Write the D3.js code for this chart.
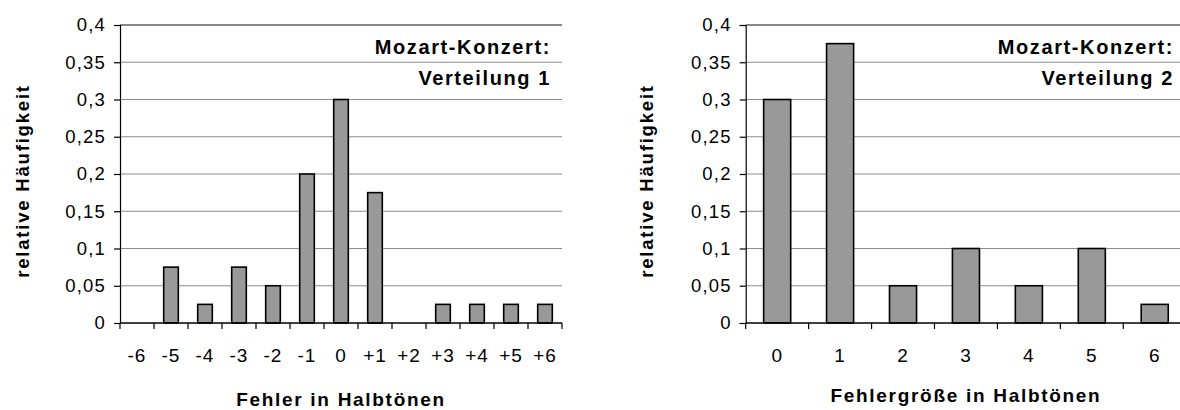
<!DOCTYPE html>
<html>
<head>
<meta charset="utf-8">
<script src="https://cdn.jsdelivr.net/npm/d3@7"></script>
<style>
  html, body { margin: 0; padding: 0; background: #fff; }
  svg { display: block; font-family: "Liberation Sans", Arial, sans-serif; }
</style>
</head>
<body>
<svg id="chart" width="1180" height="410"></svg>
<script>
// Relative frequencies of pitch errors (semitones), Mozart concerto
const signedErrors = ["-6", "-5", "-4", "-3", "-2", "-1", "0", "+1", "+2", "+3", "+4", "+5", "+6"];
const signedShare  = [0, 0.075, 0.025, 0.075, 0.05, 0.2, 0.3, 0.175, 0, 0.025, 0.025, 0.025, 0.025];

const errorSizes = ["0", "1", "2", "3", "4", "5", "6"];
const sizeShare  = [0.3, 0.375, 0.05, 0.1, 0.05, 0.1, 0.025];

const yTicks = [0, 0.05, 0.1, 0.15, 0.2, 0.25, 0.3, 0.35, 0.4];
const yTitle = "relative Häufigkeit";

const panels = [
  { cats: signedErrors, vals: signedShare, x0: 120, x1: 562,
    titleLines: ["Mozart-Konzert:", "Verteilung 1"], titleRight: 551,
    xTitle: "Fehler in Halbtönen", xTitleY: 406, yTitleX: 29 },
  { cats: errorSizes, vals: sizeShare, x0: 745.7, x1: 1186.2,
    titleLines: ["Mozart-Konzert:", "Verteilung 2"], titleRight: 1174,
    xTitle: "Fehlergröße in Halbtönen", xTitleY: 402, yTitleX: 653 }
];

const svg = d3.select("#chart");
const plotTop = 25, plotBottom = 323;
const y = d3.scaleLinear().domain([0, 0.4]).range([plotBottom, plotTop]);
const fmt = v => String(v).replace(".", ",");

panels.forEach(p => {
  const g = svg.append("g");
  const x = d3.scaleBand().domain(p.cats).range([p.x0, p.x1]).padding(0);
  const step = x.step();

  // horizontal gridlines
  g.selectAll("line.grid").data(yTicks.filter(t => t > 0)).join("line")
    .attr("class", "grid")
    .attr("x1", p.x0).attr("x2", p.x1)
    .attr("y1", d => y(d)).attr("y2", d => y(d))
    .attr("stroke", t => t === 0.4 ? "#888" : "#8c8c8c")
    .attr("stroke-width", t => t === 0.4 ? 2 : 1);

  // bars
  const bw = step * 0.43;
  g.selectAll("rect.bar").data(p.cats.map((c, i) => ({ c, v: p.vals[i] })).filter(d => d.v > 0))
    .join("rect")
    .attr("class", "bar")
    .attr("x", d => x(d.c) + (step - bw) / 2)
    .attr("y", d => y(d.v))
    .attr("width", bw)
    .attr("height", d => y(0) - y(d.v))
    .attr("fill", "#999999")
    .attr("stroke", "#000")
    .attr("stroke-width", 1.6);

  // y axis
  const yAxis = d3.axisLeft(y).tickValues(yTicks).tickFormat(fmt).tickSize(6).tickPadding(8);
  const ya = g.append("g").attr("transform", `translate(${p.x0},0)`).call(yAxis);
  ya.select(".domain").attr("stroke", "#000").attr("stroke-width", 1.2);
  ya.selectAll(".tick line").attr("stroke", "#000").attr("stroke-width", 1.2);
  ya.selectAll(".tick text")
    .attr("font-size", 18.5).attr("fill", "#000")
    .attr("letter-spacing", 1.2)
    .attr("font-family", "Liberation Sans, Arial, sans-serif");

  // x axis: ticks on category boundaries, labels at centres
  const xa = g.append("g").attr("transform", `translate(0,${plotBottom})`);
  xa.append("line").attr("x1", p.x0).attr("x2", p.x1).attr("stroke", "#000").attr("stroke-width", 1.4);
  const bounds = p.cats.map(c => x(c)).concat([p.x1]);
  xa.selectAll("line.tk").data(bounds).join("line")
    .attr("class", "tk")
    .attr("x1", d => d).attr("x2", d => d)
    .attr("y1", 0).attr("y2", 6)
    .attr("stroke", "#000").attr("stroke-width", 1.2);
  xa.selectAll("text").data(p.cats).join("text")
    .attr("x", d => x(d) + step / 2)
    .attr("y", 39)
    .attr("text-anchor", "middle")
    .attr("font-size", 19)
    .attr("letter-spacing", 1)
    .text(d => d);

  // in-plot caption
  p.titleLines.forEach((t, i) => {
    g.append("text")
      .attr("x", p.titleRight).attr("y", 54 + i * 31)
      .attr("text-anchor", "end")
      .attr("font-size", 20).attr("font-weight", "bold")
      .attr("letter-spacing", 1.6)
      .text(t);
  });

  // axis titles
  g.append("text")
    .attr("x", (p.x0 + p.x1) / 2).attr("y", p.xTitleY)
    .attr("text-anchor", "middle")
    .attr("font-size", 19).attr("font-weight", "bold")
    .attr("letter-spacing", 1.7)
    .text(p.xTitle);

  g.append("text")
    .attr("transform", `translate(${p.yTitleX},181) rotate(-90)`)
    .attr("text-anchor", "middle")
    .attr("font-size", 18.5).attr("font-weight", "bold")
    .attr("letter-spacing", 1.8)
    .text(yTitle);
});
</script>
</body>
</html>
